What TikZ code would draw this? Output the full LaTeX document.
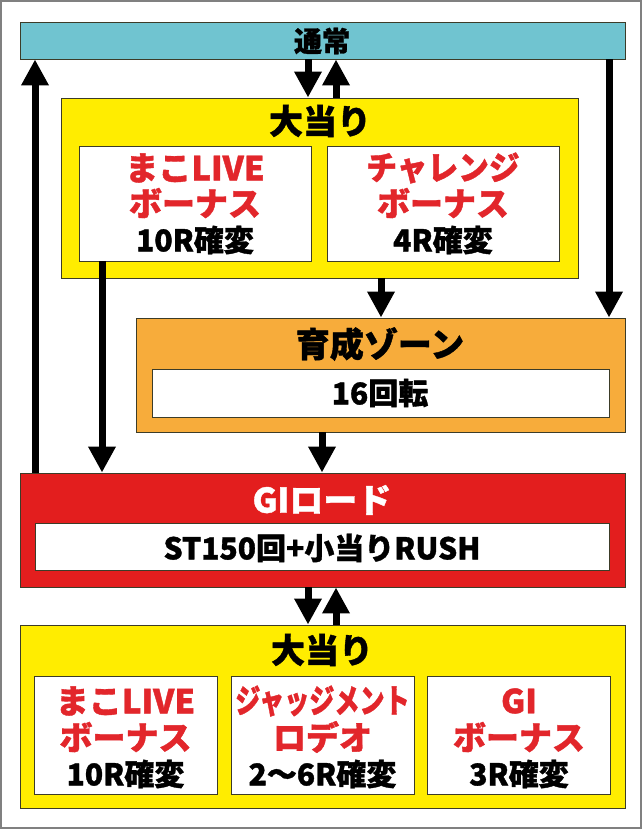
\documentclass[tikz,border=0pt]{standalone}
\usepackage{fontspec}
\setmainfont{Noto Sans CJK JP}[BoldFeatures={FakeBold=1.2}]
\usetikzlibrary{arrows.meta}
\definecolor{barcyan}{RGB}{112,196,208}
\definecolor{boxyellow}{RGB}{255,237,0}
\definecolor{boxorange}{RGB}{247,172,59}
\definecolor{boxred}{RGB}{227,30,30}
\definecolor{txtred}{RGB}{226,38,43}
\definecolor{boxline}{RGB}{60,60,40}
\definecolor{frame}{RGB}{128,128,128}
\begin{document}
\begin{tikzpicture}[x=1pt,y=-1pt,
  box/.style={draw=boxline, line width=0.9pt, inner sep=0pt},
  arr/.style={line width=7pt, -{Triangle[width=26pt,length=26pt]}},
  ttl/.style={inner sep=0pt, font=\bfseries\fontsize{34}{34}\selectfont},
  rtxt/.style={inner sep=0pt, text=txtred, font=\bfseries\fontsize{33}{33}\selectfont},
  btxt/.style={inner sep=0pt, font=\bfseries\fontsize{30}{30}\selectfont}]
\useasboundingbox (0,0) rectangle (642,829);
\draw[frame, line width=2pt] (1,1) rectangle (641,828);
% boxes
\node[box, fill=barcyan, minimum width=605pt, minimum height=37pt] (top) at (322.5,40.5) {};
\node[box, fill=boxyellow, minimum width=517pt, minimum height=180pt] (ub) at (319.5,188) {};
\node[box, fill=white, minimum width=232pt, minimum height=115pt] (ubl) at (195,203.5) {};
\node[box, fill=white, minimum width=232pt, minimum height=115pt] (ubr) at (443,203.5) {};
\node[box, fill=boxorange, minimum width=489pt, minimum height=114pt] (ik) at (380.5,375) {};
\node[box, fill=white, minimum width=457pt, minimum height=48pt] (iki) at (380.5,393) {};
\node[box, fill=boxred, minimum width=605pt, minimum height=114pt] (gi) at (322.5,530) {};
\node[box, fill=white, minimum width=574pt, minimum height=47pt] (gii) at (322,546.5) {};
\node[box, fill=boxyellow, minimum width=605pt, minimum height=183pt] (lb) at (322.5,716.5) {};
\node[box, fill=white, minimum width=183pt, minimum height=118pt] (lb1) at (125.5,735) {};
\node[box, fill=white, minimum width=183pt, minimum height=118pt] (lb2) at (322.5,735) {};
\node[box, fill=white, minimum width=183pt, minimum height=118pt] (lb3) at (519,735) {};
% texts
\node[inner sep=0pt, font=\bfseries\fontsize{28}{28}\selectfont] (t0) at (322,41) {通常};
\node[ttl] (t1) at (320,121) {大当り};
\node[rtxt] (t2) at (195,168) {まこLIVE};
\node[rtxt] (t3) at (195,203) {ボーナス};
\node[btxt] (t4) at (195,240) {10R確変};
\node[rtxt] (t5) at (443,168) {\scalebox{0.93}[1]{チャレンジ}};
\node[rtxt] (t6) at (443,203) {ボーナス};
\node[btxt] (t7) at (443,240) {4R確変};
\node[ttl] (t8) at (380,344) {育成ゾーン};
\node[btxt] (t9) at (380,393) {16回転};
\node[ttl, text=white] (t10) at (322,500) {GIロード};
\node[btxt] (t11) at (322,548) {ST150回+小当りRUSH};
\node[ttl] (t12) at (322,650) {大当り};
\node[rtxt] (t13) at (125.5,701) {まこLIVE};
\node[rtxt] (t14) at (125.5,737) {ボーナス};
\node[btxt] (t15) at (125.5,774) {10R確変};
\node[rtxt] (t16) at (322.5,701) {\scalebox{0.76}[1]{ジャッジメント}};
\node[rtxt] (t17) at (322.5,737) {ロデオ};
\node[btxt] (t18) at (322.5,774) {2〜6R確変};
\node[rtxt] (t19) at (519,701) {GI};
\node[rtxt] (t20) at (519,737) {ボーナス};
\node[btxt] (t21) at (519,774) {3R確変};
% connectors
\draw[arr] (top.south -| 308,0) -- (ub.north -| 308,0);
\draw[arr] (ub.north -| 336,0) -- (top.south -| 336,0);
\draw[arr] (gi.north -| 35,0) -- (top.south -| 35,0);
\draw[arr] (top.south -| 609,0) -- (ik.north -| 609,0);
\draw[arr] (ub.south -| 381,0) -- (ik.north -| 381,0);
\draw[arr] (ubl.south -| 102,0) -- (gi.north -| 102,0);
\draw[arr] (ik.south -| 322,0) -- (gi.north -| 322,0);
\draw[arr] (gi.south -| 308,0) -- (lb.north -| 308,0);
\draw[arr] (lb.north -| 336,0) -- (gi.south -| 336,0);
\end{tikzpicture}
\end{document}
